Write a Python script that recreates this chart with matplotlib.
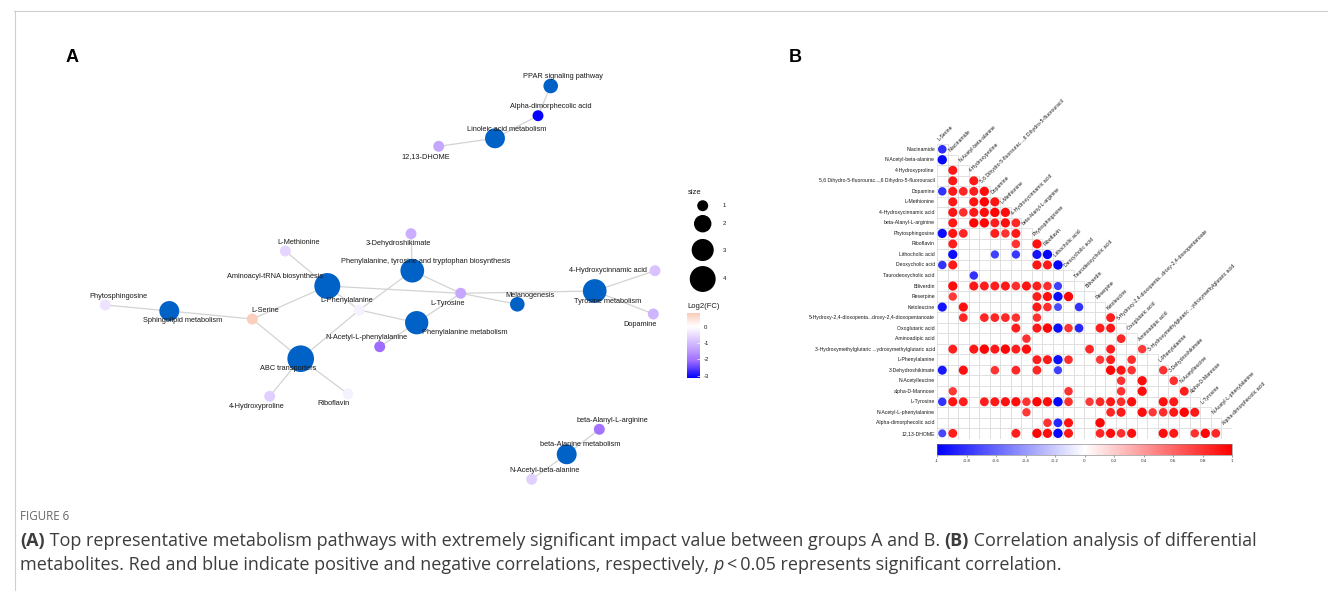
import numpy as np
import matplotlib
matplotlib.use('Agg')
import matplotlib.pyplot as plt
from matplotlib import font_manager
from matplotlib.colors import LinearSegmentedColormap, Normalize
from matplotlib.patches import Circle, Rectangle
from matplotlib.cm import ScalarMappable

W, H = 1328, 599

# ---- panel A: pathway / metabolite network ----
pathway_names = ['PPAR signaling pathway', 'Linoleic acid metabolism',
                 'Aminoacyl-tRNA biosynthesis',
                 'Phenylalanine, tyrosine and tryptophan biosynthesis',
                 'Tyrosine metabolism', 'Melanogenesis', 'Phenylalanine metabolism',
                 'Sphingolipid metabolism', 'ABC transporters', 'beta-Alanine metabolism']
pathway_x = [550.7, 495, 327.3, 412.3, 594.7, 517.3, 416.7, 169.3, 300.7, 566.7]
pathway_y = [86, 138.3, 286, 270.7, 291, 304.3, 322.7, 311, 358.7, 454.3]
pathway_size = [1.5, 2.5, 4, 3.4, 3.4, 1.5, 3.3, 2.5, 4.2, 2.5]

metab_names = ['Alpha-dimorphecolic acid', '12,13-DHOME', '3-Dehydroshikimate',
               'L-Methionine', '4-Hydroxycinnamic acid', 'Phytosphingosine', 'L-Serine',
               'L-Phenylalanine', 'L-Tyrosine', 'N-Acetyl-L-phenylalanine', 'Dopamine',
               '4-Hydroxyproline', 'Riboflavin', 'beta-Alanyl-L-arginine',
               'N-Acetyl-beta-alanine']
metab_x = [538, 438.7, 411, 285.3, 655, 105.3, 252.3, 359.3, 460.7, 379.7, 653.3,
           269.7, 348, 599.3, 531.7]
metab_y = [115.7, 146.3, 233.7, 251, 270.7, 305, 319, 310, 293.3, 346.7, 314,
           396.3, 394, 429.3, 479.3]
metab_log2fc = [-3.1, -1.3, -1.2, -0.6, -0.9, -0.4, 0.8, -0.2, -1.3, -2.1, -1.1,
                -0.7, -0.2, -2.0, -0.7]

edges = [
    ('PPAR signaling pathway', 'Alpha-dimorphecolic acid'),
    ('Alpha-dimorphecolic acid', 'Linoleic acid metabolism'),
    ('Linoleic acid metabolism', '12,13-DHOME'),
    ('Phytosphingosine', 'Sphingolipid metabolism'),
    ('Sphingolipid metabolism', 'L-Serine'),
    ('L-Serine', 'Aminoacyl-tRNA biosynthesis'),
    ('L-Serine', 'ABC transporters'),
    ('L-Methionine', 'Aminoacyl-tRNA biosynthesis'),
    ('Aminoacyl-tRNA biosynthesis', 'L-Tyrosine'),
    ('Aminoacyl-tRNA biosynthesis', 'L-Phenylalanine'),
    ('3-Dehydroshikimate', 'Phenylalanine, tyrosine and tryptophan biosynthesis'),
    ('Phenylalanine, tyrosine and tryptophan biosynthesis', 'L-Tyrosine'),
    ('Phenylalanine, tyrosine and tryptophan biosynthesis', 'L-Phenylalanine'),
    ('L-Tyrosine', 'Melanogenesis'),
    ('L-Tyrosine', 'Tyrosine metabolism'),
    ('L-Tyrosine', 'Phenylalanine metabolism'),
    ('L-Phenylalanine', 'Phenylalanine metabolism'),
    ('N-Acetyl-L-phenylalanine', 'Phenylalanine metabolism'),
    ('Tyrosine metabolism', '4-Hydroxycinnamic acid'),
    ('Tyrosine metabolism', 'Dopamine'),
    ('ABC transporters', '4-Hydroxyproline'),
    ('ABC transporters', 'Riboflavin'),
    ('ABC transporters', 'L-Phenylalanine'),
    ('beta-Alanyl-L-arginine', 'beta-Alanine metabolism'),
    ('beta-Alanine metabolism', 'N-Acetyl-beta-alanine'),
]

# label placement relative to node centre (px)
label_offset = {
    'PPAR signaling pathway': (12, -9), 'Linoleic acid metabolism': (12, -9),
    'Aminoacyl-tRNA biosynthesis': (-52, -9),
    'Phenylalanine, tyrosine and tryptophan biosynthesis': (13, -9.5),
    'Tyrosine metabolism': (13, 10.5), 'Melanogenesis': (13, -9),
    'Phenylalanine metabolism': (48, 9.5), 'Sphingolipid metabolism': (13, 10),
    'ABC transporters': (-13, 9.5), 'beta-Alanine metabolism': (13, -10),
    'Alpha-dimorphecolic acid': (13, -9), '12,13-DHOME': (-13, 10.5),
    '3-Dehydroshikimate': (-13, 9.5), 'L-Methionine': (13, -9),
    '4-Hydroxycinnamic acid': (-47, 0.3), 'Phytosphingosine': (13, -9),
    'L-Serine': (13, -9), 'L-Phenylalanine': (-13, -9.5), 'L-Tyrosine': (-13, 10),
    'N-Acetyl-L-phenylalanine': (-13, -9.5), 'Dopamine': (-13, 10.5),
    '4-Hydroxyproline': (-13, 10), 'Riboflavin': (-15, 9.5),
    'beta-Alanyl-L-arginine': (13, -8.5), 'N-Acetyl-beta-alanine': (13, -9),
}

legend_sizes = [1, 2, 3, 4]
fc_ticks = [0, -1, -2, -3]
fc_limits = (-3.14, 0.84)

# ---- panel B: correlation matrix (only significant cells are filled) ----
corr_vars = ['L-Serine', 'Niacinamide', 'N-Acetyl-beta-alanine', '4-Hydroxyproline',
             '5,6 Dihydro-5-fluorourac...,6 Dihydro-5-fluorouracil', 'Dopamine',
             'L-Methionine', '4-Hydroxycinnamic acid', 'beta-Alanyl-L-arginine',
             'Phytosphingosine', 'Riboflavin', 'Lithocholic acid', 'Deoxycholic acid',
             'Taurodeoxycholic acid', 'Biliverdin', 'Reserpine', 'Ketoleucine',
             '5-Hydroxy-2,4-dioxopenta...droxy-2,4-dioxopentanoate', 'Oxoglutaric acid',
             'Aminoadipic acid', '3-Hydroxymethylglutaric ...ydroxymethylglutaric acid',
             'L-Phenylalanine', '3-Dehydroshikimate', 'N-Acetylleucine',
             'alpha-D-Mannose', 'L-Tyrosine', 'N-Acetyl-L-phenylalanine',
             'Alpha-dimorphecolic acid', '12,13-DHOME']

# row i (variable i+1) -> {column index: r}
corr_rows = [
    {0: -0.82},
    {0: -0.97},
    {1: 0.9},
    {1: 0.9, 3: 0.9},
    {0: -0.8, 1: 0.9, 2: 0.85, 3: 0.88, 4: 0.95},
    {1: 0.9, 3: 0.92, 4: 0.98, 5: 0.92},
    {1: 0.92, 2: 0.82, 3: 0.9, 4: 0.95, 5: 0.98, 6: 0.95},
    {1: 0.9, 3: 0.97, 4: 0.97, 5: 0.88, 6: 0.95, 7: 0.85},
    {0: -0.95, 1: 0.92, 2: 0.85, 5: 0.88, 6: 0.8, 7: 0.9},
    {1: 0.88, 7: 0.8, 9: 0.93},
    {1: -0.95, 5: -0.75, 7: -0.78, 9: -0.92, 10: -0.97},
    {0: -0.8, 1: 0.9, 9: 0.92, 10: 0.9, 11: -0.97},
    {3: -0.8},
    {1: 0.95, 3: 0.9, 4: 0.88, 5: 0.88, 6: 0.9, 7: 0.82, 8: 0.92, 9: 0.88, 10: 0.82,
     11: -0.75},
    {1: 0.78, 9: 0.88, 10: 0.93, 11: -0.95, 12: 0.97},
    {0: -0.92, 2: 0.93, 9: 0.9, 10: 0.82, 11: -0.7, 13: -0.8},
    {2: 0.85, 4: 0.85, 5: 0.85, 6: 0.85, 7: 0.8, 9: 0.8, 16: 0.88},
    {7: 0.88, 9: 0.9, 10: 0.97, 11: -0.95, 12: 0.8, 13: -0.85, 15: 0.88, 16: 0.9},
    {8: 0.8, 17: 0.85},
    {1: 0.88, 3: 0.9, 4: 0.98, 5: 0.9, 6: 0.98, 7: 0.88, 8: 0.95, 14: 0.85, 16: 0.88,
     19: 0.78},
    {9: 0.88, 10: 0.9, 11: -0.95, 12: 0.82, 15: 0.78, 16: 0.88, 18: 0.82},
    {0: -0.9, 2: 0.93, 5: 0.8, 7: 0.85, 9: 0.85, 11: -0.75, 16: 0.98, 17: 0.92,
     18: 0.8, 21: 0.8},
    {17: 0.8, 19: 0.95, 22: 0.82},
    {1: 0.78, 12: 0.8, 17: 0.8, 19: 0.95, 23: 0.88},
    {0: -0.8, 1: 0.92, 2: 0.88, 4: 0.88, 5: 0.9, 6: 0.93, 7: 0.95, 8: 0.8, 9: 0.97,
     10: 0.95, 11: -0.98, 12: 0.82, 14: 0.78, 15: 0.85, 16: 0.9, 17: 0.82, 18: 0.95,
     21: 0.93, 22: 0.9},
    {8: 0.78, 16: 0.85, 17: 0.9, 19: 0.95, 20: 0.78, 21: 0.82, 22: 0.9, 23: 0.98,
     24: 0.9},
    {10: 0.8, 11: -0.85, 12: 0.92, 15: 0.98},
    {0: -0.72, 1: 0.88, 7: 0.88, 9: 0.97, 10: 0.95, 11: -0.97, 12: 0.9, 15: 0.85,
     16: 0.95, 17: 0.82, 18: 0.93, 21: 0.95, 22: 0.9, 24: 0.8, 25: 0.98, 26: 0.85},
]
corr_ticks = [-1, -0.8, -0.6, -0.4, -0.2, 0, 0.2, 0.4, 0.6, 0.8, 1]

caption_line1 = [('(A)', 'bold', 'normal'),
                 (' Top representative metabolism pathways with extremely significant '
                  'impact value between groups A and B. ', 'normal', 'normal'),
                 ('(B)', 'bold', 'normal'),
                 (' Correlation analysis of differential', 'normal', 'normal')]
caption_line2 = [('metabolites. Red and blue indicate positive and negative correlations, '
                  'respectively, ', 'normal', 'normal'),
                 ('p', 'normal', 'italic'),
                 ('\u2009<\u20090.05 represents significant correlation.', 'normal', 'normal')]

PATHWAY_COLOR = '#0062C6'
EDGE_COLOR = '#D3D3D3'
TEXT_COLOR = '#1a1a1a'
CAPTION_COLOR = '#3d3d3d'
SANS = ['Liberation Sans', 'DejaVu Sans']


def caption_family():
    # first family that ships a real bold face
    for fam in ['Noto Sans', 'Open Sans', 'Lato', 'DejaVu Sans']:
        for f in font_manager.fontManager.ttflist:
            if f.name == fam and f.weight in (700, 'bold') and f.style == 'normal':
                return fam
    return 'DejaVu Sans'


CAPTION_FAMILY = caption_family()

fc_cmap = LinearSegmentedColormap.from_list(
    'fc', [(0.0, '#0000FF'), (0.165, '#9E6CFF'), (0.30, '#C8AAFF'), (0.5, '#FFFFFF'),
           (0.635, '#FBCBB9'), (1.0, '#FF0000')])
fc_norm = Normalize(-3.14, 3.14)
corr_cmap = LinearSegmentedColormap.from_list('corr', ['#0000FF', '#FFFFFF', '#FF0000'])
corr_norm = Normalize(-1, 1)


def radius_px(size):
    return np.sqrt(30 + 46 * (np.asarray(size, dtype=float) - 1))


def marker_area(r):
    # scatter area in pt^2 for a radius given in px at 100 dpi
    return (2 * np.asarray(r) * 0.72) ** 2


fig = plt.figure(figsize=(W / 100, H / 100), dpi=100)
ax = fig.add_axes([0, 0, 1, 1])
ax.set_xlim(0, W)
ax.set_ylim(H, 0)
ax.axis('off')

pos = {}
for n, x, y in zip(pathway_names, pathway_x, pathway_y):
    pos[n] = (x, y)
for n, x, y in zip(metab_names, metab_x, metab_y):
    pos[n] = (x, y)

for a, b in edges:
    ax.plot([pos[a][0], pos[b][0]], [pos[a][1], pos[b][1]], color=EDGE_COLOR, lw=0.9,
            zorder=1, solid_capstyle='butt')

ax.scatter(metab_x, metab_y, s=marker_area(radius_px(np.ones(len(metab_x)))),
           c=metab_log2fc, cmap=fc_cmap, norm=fc_norm, linewidths=0, zorder=2)
ax.scatter(pathway_x, pathway_y, s=marker_area(radius_px(pathway_size)),
           color=PATHWAY_COLOR, linewidths=0, zorder=2)

for n in pathway_names + metab_names:
    dx, dy = label_offset[n]
    ax.text(pos[n][0] + dx, pos[n][1] + dy, n, ha='center', va='center',
            fontsize=5.3, family=SANS, color=TEXT_COLOR, zorder=3)

# size legend
ax.text(688, 192, 'size', fontsize=5.5, family=SANS, color=TEXT_COLOR, va='center')
leg_y = [205.7, 223.7, 250, 279]
ax.scatter([702.7] * 4, leg_y, s=marker_area(radius_px(legend_sizes)), color='black',
           linewidths=0)
for s, y in zip(legend_sizes, leg_y):
    ax.text(723, y, str(s), fontsize=4.3, family=SANS, color=TEXT_COLOR, va='center')

ax.text(687, 306.7, 'Log2(FC)', fontsize=5.5, family=SANS, color=TEXT_COLOR, va='center')
cax_a = fig.add_axes([687 / W, 1 - 378 / H, 13 / W, 65 / H])
cb_a = fig.colorbar(ScalarMappable(norm=fc_norm, cmap=fc_cmap), cax=cax_a,
                    boundaries=np.linspace(fc_limits[0], fc_limits[1], 200),
                    ticks=fc_ticks)
cb_a.outline.set_visible(False)
cb_a.ax.tick_params(length=2.5, width=0.5, color='white', direction='in', pad=2.5,
                    labelsize=4.3, labelcolor=TEXT_COLOR)
cb_a.ax.set_yticklabels([str(t) for t in fc_ticks])
for lab in cb_a.ax.get_yticklabels():
    lab.set_family(SANS)

# panel letters
ax.text(72, 58, 'A', fontsize=13, fontweight='bold', family=SANS, ha='center',
        va='center', color='black')
ax.text(795, 58, 'B', fontsize=13, fontweight='bold', family=SANS, ha='center',
        va='center', color='black')

# frame lines of the figure block
ax.plot([14, W], [10.5, 10.5], color='#cfcfcf', lw=0.8)
ax.plot([14.5, 14.5], [10.5, 590], color='#cfcfcf', lw=0.8)

# ---- panel B drawing ----
n = len(corr_rows)
ax_b = fig.add_axes([937 / W, 1 - 438.6 / H, 294.6 / W, 294.6 / H])
ax_b.set_xlim(-0.5, n - 0.5)
ax_b.set_ylim(n + 0.5, 0.5)
ax_b.axis('off')
for i, row in enumerate(corr_rows):
    y = i + 1
    for c in range(y):
        ax_b.add_patch(Rectangle((c - 0.5, y - 0.5), 1, 1, facecolor='white',
                                 edgecolor='#D9D9D9', lw=0.5))
    for c, v in row.items():
        ax_b.add_patch(Circle((c, y), 0.45 * np.sqrt(abs(v)),
                              facecolor=corr_cmap(corr_norm(v)), edgecolor='none'))
    ax_b.text(-0.7, y, corr_vars[y], ha='right', va='center', fontsize=3.7,
              family=SANS, color=TEXT_COLOR)
for c in range(n):
    ax_b.text(c - 0.15, c + 0.3, corr_vars[c], ha='left', va='bottom', rotation=45,
              rotation_mode='anchor', fontsize=3.7, family=SANS, color=TEXT_COLOR)

cax_b = fig.add_axes([937 / W, 1 - 455 / H, 295 / W, 11 / H])
cb_b = fig.colorbar(ScalarMappable(norm=corr_norm, cmap=corr_cmap), cax=cax_b,
                    orientation='horizontal', ticks=corr_ticks)
cb_b.outline.set_linewidth(0.4)
cb_b.outline.set_edgecolor('#777777')
cb_b.ax.tick_params(length=1.5, width=0.4, color='#555555', pad=1.5, labelsize=3,
                    labelcolor='#333333')
cb_b.ax.set_xticklabels([f'{t:g}' for t in corr_ticks])

# ---- caption ----
fig.text(20 / W, 1 - 517 / H, 'FIGURE 6', fontsize=8.3,
         family=[CAPTION_FAMILY, 'DejaVu Sans'], color='#666666', va='center')

renderer = fig.canvas.get_renderer()


def draw_runs(x, y, runs, size):
    for txt, weight, style in runs:
        t = fig.text(x / W, 1 - y / H, txt, fontsize=size, fontweight=weight,
                     fontstyle=style, family=[CAPTION_FAMILY, 'DejaVu Sans'],
                     color=CAPTION_COLOR, va='baseline')
        x += t.get_window_extent(renderer).width


draw_runs(20, 546, caption_line1, 12.95)
draw_runs(20, 570, caption_line2, 12.95)

fig.savefig('out.png', dpi=100, facecolor='white')
